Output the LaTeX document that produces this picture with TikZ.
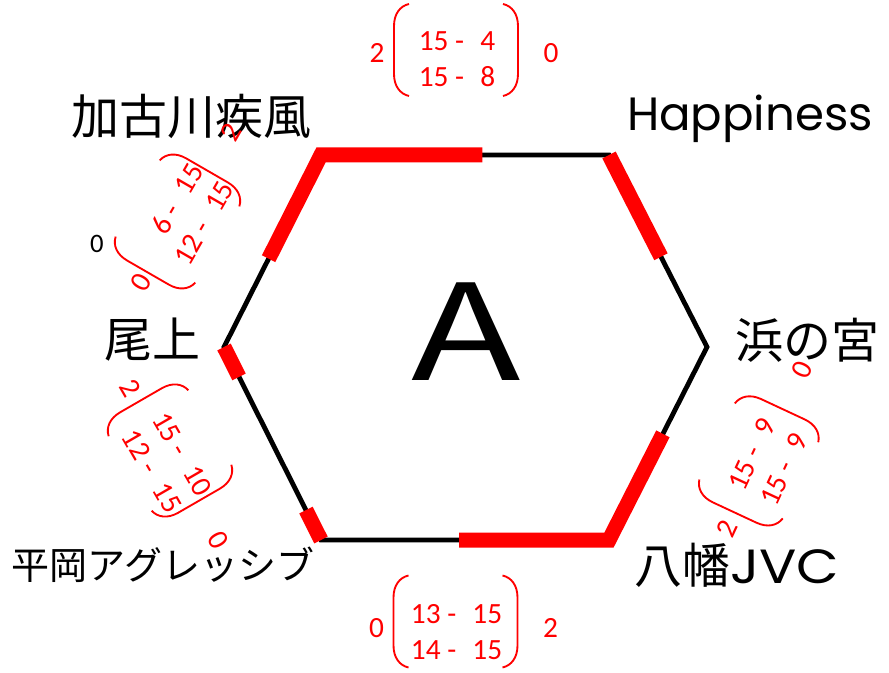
\documentclass[tikz,border=0pt]{standalone}
\usepackage{fontspec}
\setmainfont{Carlito}
\newfontfamily\jpfont{Noto Sans CJK JP}
\newfontfamily\latinfont{Poppins}
\usepackage{tikz}
\usetikzlibrary{calc}

\tikzset{
  edge/.style={line width=3.6pt, line join=miter},
  bar/.style={red, line width=11.25pt, line join=miter},
  paren/.style={red, line width=1.4pt},
  score/.style={red, font=\fontsize{22}{26.4}\selectfont, inner sep=0pt},
  team/.style={font=\jpfont\fontsize{36}{40}\selectfont, inner sep=0pt},
  lparen/.pic={\draw[paren] (0,-46) .. controls (-9,-44) and (-15,-36) .. (-15,-24) -- (-15,24) .. controls (-15,36) and (-9,44) .. (0,46);},
  rparen/.pic={\draw[paren] (0,-46) .. controls (9,-44) and (15,-36) .. (15,-24) -- (15,24) .. controls (15,36) and (9,44) .. (0,46);},
}

\begin{document}
\begin{tikzpicture}[x=0.75pt, y=-0.75pt]
  \useasboundingbox (0,0) rectangle (889,673);

  % corners of the hexagon
  \coordinate (kako) at (321,155);
  \coordinate (happy) at (609,155);
  \coordinate (hama) at (707,347);
  \coordinate (yawata) at (609,540);
  \coordinate (hiraoka) at (321,540);
  \coordinate (onoe) at (224,347);

  \draw[edge] (kako) -- (happy) -- (hama) -- (yawata) -- (hiraoka) -- (onoe) -- cycle;

  % red bars
  \draw[bar] ($(kako)!0.54!(onoe)$) -- (kako) -- ($(kako)!0.56!(happy)$);
  \draw[bar] (happy) -- ($(happy)!0.53!(hama)$);
  \draw[bar] ($(yawata)!0.55!(hama)$) -- (yawata) -- ($(yawata)!0.52!(hiraoka)$);
  \draw[bar] (onoe) -- ($(onoe)!0.155!(hiraoka)$);
  \draw[bar] (hiraoka) -- ($(hiraoka)!0.155!(onoe)$);

  \node[font=\jpfont\fontsize{100}{110}\selectfont, inner sep=0pt] (pool) at (466,332) {\scalebox{1.35}[1]{A}};

  % team names
  \node[team] (kakoname) at (191,116) {加古川疾風};
  \node[team, font=\latinfont\fontsize{35}{40}\selectfont] (happyname) at (750,119) {Happiness};
  \node[team] (hamaname) at (807,340) {浜の宮};
  \node[team] (yawataname) at (737,565) {八幡{\latinfont\scalebox{1.15}[1]{JVC}}};
  \node[team, font=\jpfont\fontsize{28.5}{32}\selectfont] (hiraokaname) at (163,565) {平岡アグレッシブ};
  \node[team] (onoename) at (152,340) {尾上};

  \node[font=\fontsize{20}{24}\selectfont, inner sep=0pt] (zero) at (97,244) {0};

  % kako - happiness
  \begin{scope}[shift={(456,50)}]
    \pic at (-47,0) {lparen};
    \pic at (47,0) {rparen};
    \node[score] (topl) at (-79,3) {2};
    \node[score] (topr) at (95,3) {0};
    \node[score] (topres) at (1,11.5) {\begin{tabular}{@{}r@{ -\hspace{0.55em}}l@{}}15&4\\15&8\end{tabular}};
  \end{scope}

  % hiraoka - yawata
  \begin{scope}[shift={(455.5,621.5)}]
    \pic at (-47,0) {lparen};
    \pic at (47,0) {rparen};
    \node[score] (botl) at (-79,7) {0};
    \node[score] (botr) at (95,6) {2};
    \node[score] (botres) at (1,13) {\begin{tabular}{@{}r@{ -\hspace{0.55em}}l@{}}13&15\\14&15\end{tabular}};
  \end{scope}

  % onoe - kako
  \begin{scope}[shift={(177.5,221.5)}, rotate=60, transform shape]
    \pic at (-44,0) {lparen};
    \pic at (44,0) {rparen};
    \node[score] (ull) at (-71,-1.5) {0};
    \node[score] (ulr) at (104,1.5) {2};
    \node[score] (ulres) at (12,8.5) {\begin{tabular}{@{}r@{ -\hspace{0.55em}}l@{}}6&15\\12&15\end{tabular}};
  \end{scope}

  % onoe - hiraoka
  \begin{scope}[shift={(170,450.5)}, rotate=-60, transform shape]
    \pic at (-43,0) {lparen};
    \pic at (43,0) {rparen};
    \node[score] (lll) at (-74,3.4) {2};
    \node[score] (llr) at (101.5,3.2) {0};
    \node[score] (llres) at (9,11) {\begin{tabular}{@{}r@{ -\hspace{0.55em}}l@{}}15&10\\12&15\end{tabular}};
  \end{scope}

  % yawata - hama
  \begin{scope}[shift={(758.8,460.9)}, rotate=65, transform shape]
    \pic at (-42,0) {lparen};
    \pic at (42,0) {rparen};
    \node[score] (lrl) at (-75,-0.6) {2};
    \node[score] (lrr) at (100.5,0.4) {0};
    \node[score] (lrres) at (3,11) {\begin{tabular}{@{}r@{ -\hspace{0.55em}}l@{}}15&9\\15&9\end{tabular}};
  \end{scope}
\end{tikzpicture}
\end{document}
